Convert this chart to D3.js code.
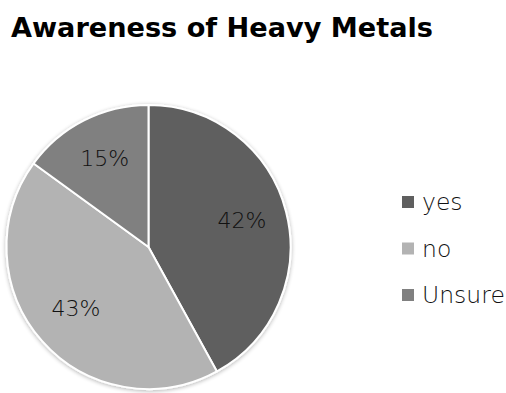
<!DOCTYPE html>
<html>
<head>
<meta charset="utf-8">
<script src="https://cdn.jsdelivr.net/npm/d3@7"></script>
<style>
  html, body { margin: 0; padding: 0; background: #fff; }
  svg { display: block; }
</style>
</head>
<body>
<svg id="chart" width="506" height="393"></svg>
<script>
// Survey answers and their shares (percent)
const categories = ["yes", "no", "Unsure"];
const values = [42, 43, 15];
const colors = ["#5f5f5f", "#b3b3b3", "#808080"];

const svg = d3.select("#chart");
const fontFamily = "'DejaVu Sans', 'Open Sans', sans-serif";

// Soft shadow under the pie
const defs = svg.append("defs");
const shadow = defs.append("filter").attr("id", "shadow")
  .attr("x", "-10%").attr("y", "-10%").attr("width", "120%").attr("height", "120%");
shadow.append("feGaussianBlur").attr("in", "SourceAlpha").attr("stdDeviation", 2);
shadow.append("feOffset").attr("dx", 0).attr("dy", 1).attr("result", "blur");
shadow.append("feComponentTransfer").append("feFuncA").attr("type", "linear").attr("slope", 0.3);
const merge = shadow.append("feMerge");
merge.append("feMergeNode");
merge.append("feMergeNode").attr("in", "SourceGraphic");

// Title
svg.append("text")
  .attr("x", 11).attr("y", 37)
  .attr("font-family", fontFamily)
  .attr("font-weight", "bold")
  .attr("font-size", 26.5)
  .attr("textLength", 422)
  .attr("lengthAdjust", "spacingAndGlyphs")
  .attr("fill", "#000")
  .text("Awareness of Heavy Metals");

// Pie
const cx = 148.5, cy = 247, radius = 142;
const data = categories.map((c, i) => ({ category: c, value: values[i], color: colors[i] }));
const pie = d3.pie().sort(null).value(d => d.value);
const arc = d3.arc().innerRadius(0).outerRadius(radius);
const labelArc = d3.arc().innerRadius(radius * 0.68).outerRadius(radius * 0.68);

const g = svg.append("g").attr("transform", `translate(${cx},${cy})`);
const arcs = pie(data);

g.append("g").attr("filter", "url(#shadow)")
  .selectAll("path")
  .data(arcs)
  .join("path")
  .attr("d", arc)
  .attr("fill", d => d.data.color)
  .attr("stroke", "#fff")
  .attr("stroke-width", 2)
  .attr("stroke-linejoin", "round");

g.selectAll("text.label")
  .data(arcs)
  .join("text")
  .attr("class", "label")
  .attr("transform", d => { const [x, y] = labelArc.centroid(d); return `translate(${x},${y - 3})`; })
  .attr("text-anchor", "middle")
  .attr("dy", "0.36em")
  .attr("font-family", fontFamily)
  .attr("font-weight", 200)
  .attr("font-size", 22)
  .attr("fill", "#111")
  .text(d => d.data.value + "%");

// Legend
const legendY = d3.scalePoint().domain(categories).range([202, 295]);
const legend = svg.append("g");
const items = legend.selectAll("g")
  .data(data)
  .join("g")
  .attr("transform", d => `translate(402,${legendY(d.category)})`);
items.append("rect")
  .attr("x", 0).attr("y", -6)
  .attr("width", 12).attr("height", 12)
  .attr("fill", d => d.color);
items.append("text")
  .attr("x", 20).attr("y", 0)
  .attr("dy", "0.36em")
  .attr("font-family", fontFamily)
  .attr("font-weight", 200)
  .attr("font-size", 23.5)
  .attr("fill", "#111")
  .text(d => d.category);
</script>
</body>
</html>
